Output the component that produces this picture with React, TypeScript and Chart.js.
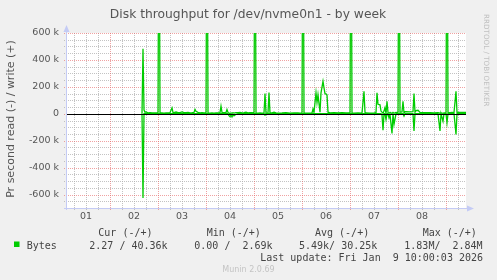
import React, { useEffect, useRef } from 'react';
import { Chart, registerables } from 'chart.js';

Chart.register(...registerables);

// time in hours since Jan 1 00:00
const hours = [
  40, 40.5, 41, 41.5, 42, 43, 44, 45, 46, 47, 48, 48.5, 49,
  50, 51, 52, 53, 54, 55, 55.5, 56, 57, 58, 59, 60, 61, 62, 63, 64, 65, 66, 66.5, 67, 68, 69, 70, 71, 72, 72.5, 73,
  74, 75, 76, 77, 78, 79, 79.5, 80, 81, 82, 82.5, 83, 83.5, 84, 84.5, 85, 85.5, 86, 87, 88, 89, 90, 91, 92, 93, 94, 95, 96, 96.5, 97,
  98, 99, 100, 101, 101.5, 102, 103, 103.5, 104, 105, 106, 107, 108, 110, 112, 114, 116, 118, 119, 120, 120.5, 121,
  122, 123, 124, 125, 125.5, 126, 127, 127.5, 128, 129, 129.5, 130.5, 131, 131.5, 132, 132.5, 133, 134, 136, 138, 140, 142, 143, 144, 144.5, 145,
  146, 148, 150, 151, 151.5, 152, 154, 156, 157, 157.5, 158, 159, 159.5, 160, 160.5, 161, 161.5, 162, 162.5, 163, 163.5, 164, 165, 165.5, 166, 167, 168, 168.5, 169,
  170, 170.5, 171, 171.5, 172, 174, 175.5, 176, 176.5, 177, 178, 179, 180, 182, 184, 186, 188, 189, 189.5, 190.5, 191, 192, 192.5, 193, 194, 195, 196, 197, 197.5, 198, 200, 202,
];

// write bytes per second (k)
const writeK = [
  0, 483, 27, 12, 14, 7, 9, 6, 7, 6, 7, 2000, 6,
  6, 5, 6, 7, 8, 44, 10, 9, 13, 8, 9, 14, 8, 9, 11, 7, 8, 10, 32, 18, 11, 7, 9, 6, 6, 2000, 6,
  5, 6, 5, 6, 7, 9, 56, 10, 8, 9, 32, 10, 4, 2, 6, 3, 8, 5, 9, 8, 10, 6, 8, 11, 7, 9, 8, 7, 2000, 6,
  5, 6, 5, 6, 150, 5, 6, 157, 6, 7, 12, 6, 5, 6, 8, 5, 6, 7, 5, 6, 2000, 5,
  4, 5, 4, 6, 35, 10, 155, 83, 142, 12, 155, 241, 192, 150, 146, 140, 12, 7, 8, 6, 9, 7, 6, 7, 2000, 6,
  5, 6, 5, 167, 10, 6, 5, 6, 8, 155, 70, 66, 20, 12, 4, 20, 46, 2, 93, 10, 4, 10, 3, 10, 4, 10, 9, 2000, 12,
  14, 93, 6, 15, 15, 14, 15, 150, 12, 24, 26, 10, 9, 8, 9, 7, 8, 4, 6, 3, 6, 8, 2000, 8, 9, 10, 9, 167, 10, 10, 11, 10,
];

// read bytes per second (k), drawn downward
const readK = [
  0, 626, 0, 0, 0, 0, 0, 0, 0, 0, 0, 0, 0,
  0, 0, 0, 0, 0, 0, 0, 0, 0, 0, 0, 0, 0, 0, 0, 0, 0, 0, 0, 0, 0, 0, 0, 0, 0, 0, 0,
  0, 0, 0, 0, 0, 0, 0, 0, 0, 0, 0, 0, 14, 22, 8, 24, 6, 16, 4, 0, 0, 0, 0, 0, 0, 0, 0, 0, 0, 0,
  0, 0, 0, 0, 10, 0, 0, 0, 0, 0, 0, 0, 0, 0, 0, 0, 0, 0, 0, 0, 0, 0,
  0, 0, 0, 0, 0, 0, 0, 0, 0, 0, 0, 0, 0, 0, 0, 0, 0, 0, 0, 0, 0, 0, 0, 0, 0, 0,
  0, 0, 0, 0, 0, 0, 0, 0, 0, 0, 0, 0, 0, 8, 123, 0, 0, 42, 0, 0, 30, 6, 146, 0, 79, 0, 0, 0, 0,
  0, 0, 17, 0, 0, 0, 0, 128, 0, 0, 0, 0, 0, 0, 0, 0, 0, 128, 0, 55, 0, 0, 67, 0, 0, 0, 0, 153, 0, 0, 0, 0,
];

const dayLabels = ['01', '02', '03', '04', '05', '06', '07', '08'];
const legendHeaders = ['Cur (-/+)', 'Min (-/+)', 'Avg (-/+)', 'Max (-/+)'];
const legendValues = ['2.27 / 40.36k', '0.00 /  2.69k', '5.49k/ 30.25k', '1.83M/  2.84M'];
const seriesName = 'Bytes';
const titleText = 'Disk throughput for /dev/nvme0n1 - by week';
const yTitle = 'Pr second read (-) / write (+)';
const lastUpdate = 'Last update: Fri Jan  9 10:00:03 2026';
const watermark = 'RRDTOOL / TOBI OETIKER';
const version = 'Munin 2.0.69';

const GREEN = '#00cc00';
const MINOR = 'rgba(175,175,175,0.75)';
const MAJOR = 'rgba(230,100,100,0.6)';
const AXIS = '#c4cbf5';

const xTicks: number[] = [];
for (let v = 6; v <= 198; v += 6) xTicks.push(v);
const yTicks: number[] = [];
for (let v = -700000; v <= 600000; v += 50000) yTicks.push(v);

const muninPlugin = {
  id: 'muninDecor',
  beforeDraw(chart: any) {
    const { ctx, chartArea: a, width, height } = chart;
    const xs = chart.scales.x;
    const ys = chart.scales.y;
    ctx.save();
    ctx.fillStyle = '#f0f0f0';
    ctx.fillRect(0, 0, width, height);
    ctx.fillStyle = '#ffffff';
    ctx.fillRect(a.left, a.top, a.right - a.left, a.bottom - a.top);
    ctx.lineWidth = 1;
    ctx.setLineDash([1, 1]);
    // minor first, then major
    for (const pass of [0, 1]) {
      for (const v of xTicks) {
        const major = v % 24 === 0;
        if ((pass === 1) !== major) continue;
        const px = Math.round(xs.getPixelForValue(v)) + 0.5;
        ctx.strokeStyle = major ? MAJOR : MINOR;
        ctx.beginPath();
        ctx.moveTo(px, a.top);
        ctx.lineTo(px, a.bottom + 2);
        ctx.stroke();
      }
      for (const v of yTicks) {
        const major = v % 200000 === 0;
        if ((pass === 1) !== major) continue;
        const py = Math.round(ys.getPixelForValue(v)) + 0.5;
        ctx.strokeStyle = major ? MAJOR : MINOR;
        ctx.beginPath();
        ctx.moveTo(a.left - 2, py);
        ctx.lineTo(a.right, py);
        ctx.stroke();
      }
    }
    ctx.restore();
  },
  afterDatasetsDraw(chart: any) {
    const { ctx, chartArea: a } = chart;
    const ys = chart.scales.y;
    ctx.save();
    // zero rule
    const y0 = Math.round(ys.getPixelForValue(0));
    ctx.fillStyle = '#000000';
    ctx.fillRect(a.left, y0, a.right - a.left, 1);
    // axes
    ctx.fillStyle = AXIS;
    ctx.fillRect(a.left, a.top - 6, 1, a.bottom - a.top + 8);
    ctx.fillRect(a.left - 2, a.bottom, a.right - a.left + 7, 1);
    // arrows
    ctx.beginPath();
    ctx.moveTo(a.left + 0.5, a.top - 8);
    ctx.lineTo(a.left - 2.5, a.top - 1);
    ctx.lineTo(a.left + 3.5, a.top - 1);
    ctx.closePath();
    ctx.fill();
    ctx.beginPath();
    ctx.moveTo(a.right + 8, a.bottom + 0.5);
    ctx.lineTo(a.right + 1, a.bottom - 2.5);
    ctx.lineTo(a.right + 1, a.bottom + 3.5);
    ctx.closePath();
    ctx.fill();
    ctx.restore();
  },
  afterDraw(chart: any) {
    const { ctx } = chart;
    ctx.save();
    // title
    ctx.fillStyle = '#555555';
    ctx.font = "12.3px 'DejaVu Sans'";
    ctx.textAlign = 'center';
    ctx.textBaseline = 'alphabetic';
    ctx.fillText(titleText, 248, 17.7);
    // y title
    ctx.save();
    ctx.translate(13.5, 119);
    ctx.rotate(-Math.PI / 2);
    ctx.font = "11px 'DejaVu Sans'";
    ctx.fillStyle = '#555555';
    ctx.fillText(yTitle, 0, 0);
    ctx.restore();
    // watermark
    ctx.save();
    ctx.translate(484, 14);
    ctx.rotate(Math.PI / 2);
    ctx.font = "7.2px 'DejaVu Sans'";
    ctx.fillStyle = '#c0c0c0';
    ctx.textAlign = 'left';
    ctx.fillText(watermark, 0, 0);
    ctx.restore();
    // legend
    ctx.font = "10px 'DejaVu Sans Mono'";
    ctx.fillStyle = '#444444';
    ctx.textAlign = 'left';
    const hx = [98.3, 206.7, 315, 422.7];
    legendHeaders.forEach((t, i) => ctx.fillText(t, hx[i], 236.4));
    const vx = [89.3, 194.3, 299, 404.3];
    legendValues.forEach((t, i) => ctx.fillText(t, vx[i], 248.5));
    ctx.fillText(seriesName, 26.7, 248.5);
    ctx.textAlign = 'right';
    ctx.fillText(lastUpdate, 483, 260.6);
    ctx.fillStyle = GREEN;
    ctx.fillRect(14, 241.5, 5.5, 5.5);
    // version
    ctx.font = "8px 'DejaVu Sans'";
    ctx.fillStyle = '#c4c4c4';
    ctx.textAlign = 'center';
    ctx.fillText(version, 248.5, 271.7);
    ctx.restore();
  },
};

export default function App() {
  const ref = useRef<HTMLCanvasElement>(null);
  useEffect(() => {
    if (!ref.current) return;
    Chart.defaults.font.family = "'DejaVu Sans', sans-serif";
    const chart = new Chart(ref.current, {
      type: 'line',
      data: {
        datasets: [
          {
            label: seriesName,
            data: hours.map((h, i) => ({ x: h, y: writeK[i] * 1000 })),
            borderColor: GREEN,
            borderWidth: 1.3,
            pointRadius: 0,
            tension: 0,
            fill: false,
          },
          {
            label: seriesName + ' read',
            data: hours.map((h, i) => ({ x: h, y: -readK[i] * 1000 })),
            borderColor: GREEN,
            borderWidth: 1.3,
            pointRadius: 0,
            tension: 0,
            fill: false,
          },
        ],
      },
      options: {
        animation: false,
        responsive: false,
        devicePixelRatio: 1,
        layout: { padding: { left: 0, right: 31, top: 33, bottom: 0 } },
        plugins: {
          legend: { display: false },
          tooltip: { enabled: false },
          title: { display: false },
        },
        scales: {
          x: {
            type: 'linear',
            min: 2,
            max: 202,
            afterBuildTicks: (s: any) => {
              s.ticks = xTicks.map((v) => ({ value: v }));
            },
            afterFit: (s: any) => {
              s.height = 72;
            },
            grid: { display: false, drawTicks: false },
            border: { display: false },
            ticks: {
              autoSkip: false,
              maxRotation: 0,
              minRotation: 0,
              padding: 3,
              color: '#555555',
              font: { size: 9.5, family: "'DejaVu Sans'" },
              callback: (v: any) => (v % 24 === 12 ? dayLabels[(v - 12) / 24] : ''),
            },
          },
          y: {
            type: 'linear',
            min: -700000,
            max: 600000,
            afterBuildTicks: (s: any) => {
              s.ticks = yTicks.map((v) => ({ value: v }));
            },
            afterFit: (s: any) => {
              s.width = 66;
            },
            grid: { display: false, drawTicks: false },
            border: { display: false },
            ticks: {
              autoSkip: false,
              padding: 7,
              color: '#555555',
              font: { size: 9.5, family: "'DejaVu Sans'" },
              callback: (v: any) =>
                v % 200000 === 0 ? (v === 0 ? '0' : `${v / 1000} k`) : '',
            },
          },
        },
      } as any,
      plugins: [muninPlugin],
    });
    return () => chart.destroy();
  }, []);
  return (
    <div style={{ position: 'absolute', left: 0, top: 0, width: 497, height: 280, background: '#f0f0f0' }}>
      <canvas ref={ref} width={497} height={280} style={{ display: 'block', width: 497, height: 280 }} />
    </div>
  );
}
